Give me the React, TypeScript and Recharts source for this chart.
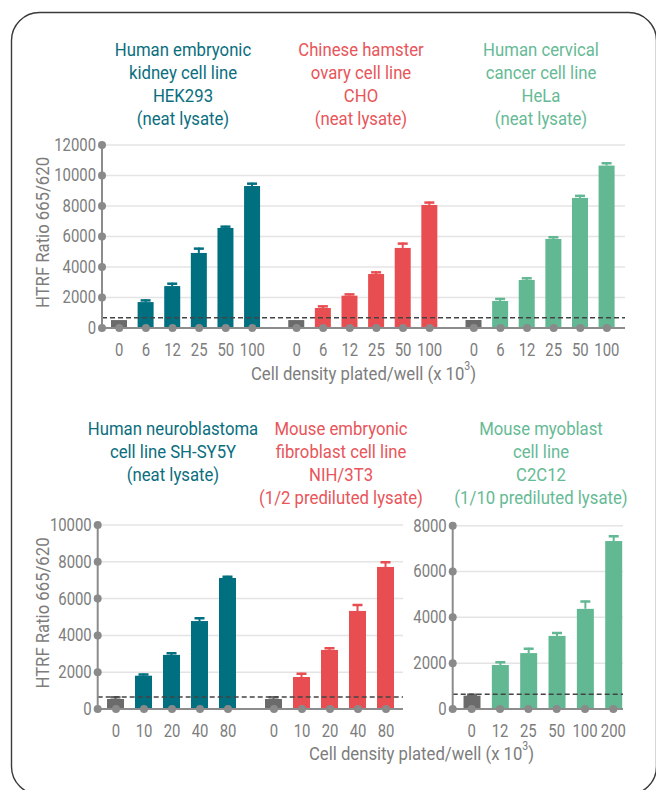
import React from 'react';
import { BarChart, Bar, XAxis, YAxis, CartesianGrid, ReferenceLine } from 'recharts';

const FONT = "Roboto, 'Noto Sans', sans-serif";
const TEXT_NARROW = 0.88; // horizontal squeeze to imitate a condensed typeface
const TICK_NARROW = 0.85;

const TEAL = '#006f80';
const RED = '#e84e51';
const GREEN = '#61b892';
const CONTROL = '#6b6b6b';
const DOT = '#8a8a8a';
const AXIS = '#8c8c8c';
const TICK_TEXT = '#7d7d7d';
const GRID = '#e4e4e4';
const DASH = '#444444';

// ---------- top row ----------
const topDensities = ['0', '6', '12', '25', '50', '100'];
const hekValues = [520, 1700, 2750, 4920, 6560, 9310];
const hekErrors = [0, 175, 220, 350, 150, 220];
const choValues = [520, 1310, 2120, 3540, 5250, 8070];
const choErrors = [0, 175, 150, 175, 350, 220];
const helaValues = [525, 1770, 3150, 5840, 8530, 10650];
const helaErrors = [0, 200, 175, 175, 200, 220];
const topTicks = [0, 2000, 4000, 6000, 8000, 10000, 12000];
const topThreshold = 675;

// ---------- bottom left ----------
const leftDensities = ['0', '10', '20', '40', '80'];
const shValues = [543, 1810, 2940, 4780, 7120];
const shErrors = [145, 125, 145, 200, 125];
const nihValues = [543, 1740, 3210, 5330, 7720];
const nihErrors = [145, 235, 145, 380, 310];
const leftTicks = [0, 2000, 4000, 6000, 8000, 10000];
const leftThreshold = 650;

// ---------- bottom right ----------
const rightDensities = ['0', '12', '25', '50', '100', '200'];
const c2Values = [582, 1920, 2440, 3190, 4370, 7330];
const c2Errors = [80, 160, 230, 175, 360, 250];
const rightTicks = [0, 2000, 4000, 6000, 8000];
const rightThreshold = 640;

const topTitles = [
  { lines: ['Human embryonic', 'kidney cell line', 'HEK293', '(neat lysate)'], color: '#0a6e7e', cx: 183 },
  { lines: ['Chinese hamster', 'ovary cell line', 'CHO', '(neat lysate)'], color: '#e8555a', cx: 361 },
  { lines: ['Human cervical', 'cancer cell line', 'HeLa', '(neat lysate)'], color: '#66ba95', cx: 541 },
];
const bottomTitles = [
  { lines: ['Human neuroblastoma', 'cell line SH-SY5Y', '(neat lysate)'], color: '#0a6e7e', cx: 173 },
  { lines: ['Mouse embryonic', 'fibroblast cell line', 'NIH/3T3', '(1/2 prediluted lysate)'], color: '#e8555a', cx: 341 },
  { lines: ['Mouse myoblast', 'cell line', 'C2C12', '(1/10 prediluted lysate)'], color: '#66ba95', cx: 541 },
];

type Row = { pos: number; label: string; value: number; err: number; color: string };

function buildRows(
  groups: { values: number[]; errors: number[]; color: string }[],
  densities: string[],
  gap: number
): Row[] {
  const rows: Row[] = [];
  groups.forEach((g, gi) => {
    g.values.forEach((v, i) => {
      rows.push({
        pos: gi * (densities.length + gap) + i,
        label: densities[i],
        value: v,
        err: g.errors[i],
        color: i === 0 ? CONTROL : g.color,
      });
    });
  });
  return rows;
}

const topRows = buildRows(
  [
    { values: hekValues, errors: hekErrors, color: TEAL },
    { values: choValues, errors: choErrors, color: RED },
    { values: helaValues, errors: helaErrors, color: GREEN },
  ],
  topDensities,
  0.66
);
const leftRows = buildRows(
  [
    { values: shValues, errors: shErrors, color: TEAL },
    { values: nihValues, errors: nihErrors, color: RED },
  ],
  leftDensities,
  0.643
);
const rightRows = buildRows([{ values: c2Values, errors: c2Errors, color: GREEN }], rightDensities, 0);

const NText = ({
  x,
  y,
  anchor = 'middle',
  size,
  squeeze,
  rotate = 0,
  fill = TICK_TEXT,
  children,
}: {
  x: number;
  y: number;
  anchor?: 'start' | 'middle' | 'end';
  size: number;
  squeeze: number;
  rotate?: number;
  fill?: string;
  children: React.ReactNode;
}) => (
  <text
    x={0}
    y={0}
    transform={`translate(${x},${y}) rotate(${rotate}) scale(${squeeze},1)`}
    textAnchor={anchor}
    dominantBaseline="central"
    fill={fill}
    fontSize={size}
    fontFamily={FONT}
  >
    {children}
  </text>
);

const BarWithError = (props: any) => {
  const { x, y, width, height } = props;
  const d: Row = props.payload ?? props;
  const ppu = d.value ? height / d.value : 0;
  const top = y - d.err * ppu;
  const cx = x + width / 2;
  return (
    <g>
      <rect x={x} y={y} width={width} height={height} fill={d.color} />
      {d.err > 0 && (
        <g>
          <line x1={cx} x2={cx} y1={y} y2={top} stroke={d.color} strokeWidth={2} />
          <line x1={cx - 5} x2={cx + 5} y1={top + 1} y2={top + 1} stroke={d.color} strokeWidth={2.5} />
        </g>
      )}
    </g>
  );
};

const makeXTick = (rows: Row[]) => (props: any) => {
  const { x, y, payload } = props;
  const row = rows.find((r) => Math.abs(r.pos - payload.value) < 1e-6);
  return (
    <g>
      <circle cx={x} cy={y} r={4} fill={DOT} />
      <NText x={x} y={y + 22} size={17.5} squeeze={TICK_NARROW}>
        {row ? row.label : ''}
      </NText>
    </g>
  );
};

const YTick = (props: any) => {
  const { x, y, payload } = props;
  return (
    <g>
      <circle cx={x} cy={y} r={4} fill={DOT} />
      <NText x={x - 6} y={y} anchor="end" size={17.5} squeeze={TICK_NARROW}>
        {payload.value}
      </NText>
    </g>
  );
};

const makeYLabel = (dx: number, dy: number) => (props: any) => {
  const vb = props.viewBox || {};
  return (
    <NText x={vb.x + dx} y={vb.y + vb.height / 2 + dy} size={19} squeeze={TEXT_NARROW} rotate={-90}>
      HTRF Ratio 665/620
    </NText>
  );
};

const DensityLabel = ({ x, y }: { x: number; y: number }) => (
  <NText x={x} y={y} size={19} squeeze={TEXT_NARROW}>
    Cell density plated/well (x 10
    <tspan dy={-7} fontSize={12}>3</tspan>
    <tspan dy={7}>)</tspan>
  </NText>
);

const makeXLabel = (dy: number) => (props: any) => {
  const vb = props.viewBox || {};
  return <DensityLabel x={vb.x + vb.width / 2} y={vb.y + dy} />;
};

const Title = ({ lines, color, cx, top }: { lines: string[]; color: string; cx: number; top: number }) => (
  <div
    style={{
      position: 'absolute',
      left: cx - 120,
      top,
      width: 240,
      textAlign: 'center',
      color,
      fontFamily: FONT,
      fontSize: 19,
      lineHeight: '23px',
      whiteSpace: 'nowrap',
    }}
  >
    {lines.map((l, i) => (
      <div key={i} style={{ transform: `scaleX(${TEXT_NARROW})`, transformOrigin: 'center' }}>
        {l}
      </div>
    ))}
  </div>
);

export default function App() {
  return (
    <div style={{ position: 'absolute', left: 0, top: 0, width: 656, height: 790, background: '#fff', overflow: 'hidden' }}>
      <svg width={656} height={790} style={{ position: 'absolute', left: 0, top: 0 }}>
        <rect x={11.5} y={12.5} width={645} height={782} rx={28} ry={28} fill="none" stroke="#3a3a3a" strokeWidth={1.4} />
      </svg>

      {topTitles.map((t, i) => (
        <Title key={i} lines={t.lines} color={t.color} cx={t.cx} top={38} />
      ))}
      {bottomTitles.map((t, i) => (
        <Title key={i} lines={t.lines} color={t.color} cx={t.cx} top={417} />
      ))}

      {/* top row */}
      <div style={{ position: 'absolute', left: 0, top: 0 }}>
        <BarChart width={656} height={400} data={topRows} margin={{ top: 145, right: 31, left: 42, bottom: 32 }} barSize={16}>
          <CartesianGrid horizontal vertical={false} stroke={GRID} strokeWidth={1.5} />
          <Bar dataKey="value" isAnimationActive={false} shape={BarWithError} />
          <ReferenceLine y={topThreshold} stroke={DASH} strokeWidth={1.5} strokeDasharray="5 3" />
          <XAxis
            dataKey="pos"
            type="number"
            domain={[-0.65, 19.0]}
            allowDataOverflow
            ticks={topRows.map((r) => r.pos)}
            interval={0}
            tick={makeXTick(topRows)}
            tickLine={false}
            tickSize={0}
            tickMargin={0}
            axisLine={{ stroke: AXIS, strokeWidth: 2 }}
            height={40}
            label={makeXLabel(45)}
          />
          <YAxis
            type="number"
            domain={[0, 12000]}
            allowDataOverflow
            ticks={topTicks}
            interval={0}
            tick={YTick}
            tickLine={false}
            tickSize={0}
            tickMargin={0}
            axisLine={{ stroke: AXIS, strokeWidth: 2 }}
            width={60}
            label={makeYLabel(0, -4)}
          />
        </BarChart>
      </div>

      {/* bottom left */}
      <div style={{ position: 'absolute', left: 0, top: 480 }}>
        <BarChart width={420} height={300} data={leftRows} margin={{ top: 45, right: 17, left: 40, bottom: 31 }} barSize={17}>
          <CartesianGrid horizontal vertical={false} stroke={GRID} strokeWidth={1.5} />
          <Bar dataKey="value" isAnimationActive={false} shape={BarWithError} />
          <ReferenceLine y={leftThreshold} stroke={DASH} strokeWidth={1.5} strokeDasharray="5 3" />
          <XAxis
            dataKey="pos"
            type="number"
            domain={[-0.654, 10.25]}
            allowDataOverflow
            ticks={leftRows.map((r) => r.pos)}
            interval={0}
            tick={makeXTick(leftRows)}
            tickLine={false}
            tickSize={0}
            tickMargin={0}
            axisLine={{ stroke: AXIS, strokeWidth: 2 }}
            height={40}
          />
          <YAxis
            type="number"
            domain={[0, 10000]}
            allowDataOverflow
            ticks={leftTicks}
            interval={0}
            tick={YTick}
            tickLine={false}
            tickSize={0}
            tickMargin={0}
            axisLine={{ stroke: AXIS, strokeWidth: 2 }}
            width={57.7}
            label={makeYLabel(1.7, -4)}
          />
        </BarChart>
      </div>

      {/* bottom right */}
      <div style={{ position: 'absolute', left: 400, top: 480 }}>
        <BarChart width={256} height={300} data={rightRows} margin={{ top: 45.7, right: 33, left: 0, bottom: 31 }} barSize={17}>
          <CartesianGrid horizontal vertical={false} stroke={GRID} strokeWidth={1.5} />
          <Bar dataKey="value" isAnimationActive={false} shape={BarWithError} />
          <ReferenceLine y={rightThreshold} stroke={DASH} strokeWidth={1.5} strokeDasharray="5 3" />
          <XAxis
            dataKey="pos"
            type="number"
            domain={[-0.67, 5.34]}
            allowDataOverflow
            ticks={rightRows.map((r) => r.pos)}
            interval={0}
            tick={makeXTick(rightRows)}
            tickLine={false}
            tickSize={0}
            tickMargin={0}
            axisLine={{ stroke: AXIS, strokeWidth: 2 }}
            height={40}
          />
          <YAxis
            type="number"
            domain={[0, 8000]}
            allowDataOverflow
            ticks={rightTicks}
            interval={0}
            tick={YTick}
            tickLine={false}
            tickSize={0}
            tickMargin={0}
            axisLine={{ stroke: AXIS, strokeWidth: 2 }}
            width={52.7}
          />
        </BarChart>
      </div>

      <svg width={656} height={790} style={{ position: 'absolute', left: 0, top: 0, pointerEvents: 'none' }}>
        <DensityLabel x={421.5} y={753} />
      </svg>
    </div>
  );
}
